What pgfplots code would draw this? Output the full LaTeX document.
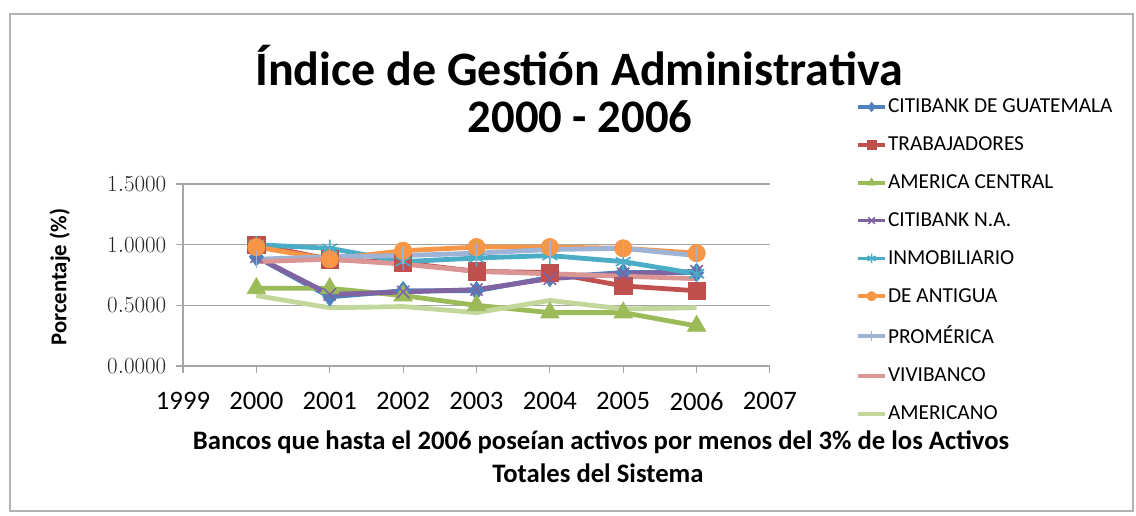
\documentclass[border=0pt]{standalone}
\usepackage{pgfplots}
\pgfplotsset{compat=1.18}
\usepackage{fontspec}
\setmainfont{Carlito}
\definecolor{cA}{HTML}{4F81BD}
\definecolor{cB}{HTML}{C0504D}
\definecolor{cC}{HTML}{9BBB59}
\definecolor{cD}{HTML}{8064A2}
\definecolor{cE}{HTML}{4BACC6}
\definecolor{cF}{HTML}{F79646}
\definecolor{cG}{HTML}{9FB3D6}
\definecolor{cH}{HTML}{D99694}
\definecolor{cI}{HTML}{C3D69B}
\begin{document}
\begin{tikzpicture}
\begin{scope}[x=0.75pt,y=0.75pt]
\path[use as bounding box] (0,0) rectangle (1136,515);
\draw[gray!60,line width=1pt] (10,4) rectangle (1133,501);
\node[font=\bfseries\fontsize{36}{40}\selectfont, inner sep=0pt] at (579,449) {Índice de Gestión Administrativa};
\node[font=\bfseries\fontsize{35}{40}\selectfont, inner sep=0pt] at (580,398) {2000 - 2006};
\node[font=\bfseries\fontsize{20}{22}\selectfont] at (601,73) {Bancos que hasta el 2006 poseían activos por menos del 3\% de los Activos};
\node[font=\bfseries\fontsize{20}{22}\selectfont] at (598,42) {Totales del Sistema};
\node[font=\bfseries\fontsize{17}{20}\selectfont,rotate=90] at (60,238) {Porcentaje (\%)};
\end{scope}
\begin{axis}[
  at={(137.25pt,111.75pt)}, anchor=south west,
  scale only axis, width=440.25pt, height=136.5pt,
  xmin=1999, xmax=2007, ymin=0, ymax=1.5,
  xtick={1999,...,2007}, ytick={0,0.5,1,1.5},
  axis x line*=bottom, axis y line*=left,
  axis line style={gray!70, line width=0.8pt},
  ymajorgrids, grid style={gray!70, line width=0.8pt},
  tick align=outside, major tick length=5pt,
  tick style={gray!70, line width=0.8pt},
  xticklabel style={/pgf/number format/1000 sep={}, /pgf/number format/assume math mode=true, font=\fontsize{20}{22}\selectfont, yshift=-11pt},
  yticklabel style={/pgf/number format/.cd, fixed, fixed zerofill, precision=4, /tikz/.cd, font=\fontsize{17}{20}\selectfont, xshift=-4pt, text=black!85},
  every axis plot/.append style={line width=3.6pt},
  legend style={at={(1.14,1.49)}, anchor=north west, draw=none, fill=none,
    font=\fontsize{16}{18}\selectfont, row sep=14.5pt, nodes={inner sep=1pt}},
  legend cell align=left,
  legend image code/.code={\draw[#1,line width=2.8pt,mark size=3.5pt,mark repeat=2,mark phase=2] plot coordinates {(0cm,0cm) (0.35cm,0cm) (0.7cm,0cm)};},
  clip=false,
]
\addplot[cA, mark=diamond*, mark size=7pt, mark options={solid,line width=0.5pt}] coordinates {(2000,0.90) (2001,0.57) (2002,0.62) (2003,0.62) (2004,0.73) (2005,0.77) (2006,0.77)};
\addlegendentry{CITIBANK DE GUATEMALA}
\addplot[cB, mark=square*, mark size=6.5pt, mark options={line width=0.5pt}] coordinates {(2000,1.00) (2001,0.88) (2002,0.85) (2003,0.78) (2004,0.77) (2005,0.66) (2006,0.62)};
\addlegendentry{TRABAJADORES}
\addplot[cC, mark=triangle*, mark size=8pt, mark options={line width=0.5pt}] coordinates {(2000,0.64) (2001,0.64) (2002,0.58) (2003,0.50) (2004,0.44) (2005,0.44) (2006,0.33)};
\addlegendentry{AMERICA CENTRAL}
\addplot[cD, mark=x, mark size=6.5pt, mark options={line width=1.2pt}] coordinates {(2000,0.90) (2001,0.59) (2002,0.61) (2003,0.63) (2004,0.72) (2005,0.76) (2006,0.78)};
\addlegendentry{CITIBANK N.A.}
\addplot[cE, mark=asterisk, mark size=6.5pt, mark options={line width=1.2pt}] coordinates {(2000,1.00) (2001,0.97) (2002,0.86) (2003,0.89) (2004,0.91) (2005,0.86) (2006,0.76)};
\addlegendentry{INMOBILIARIO}
\addplot[cF, mark=*, mark size=6.5pt, mark options={line width=0.5pt}] coordinates {(2000,0.98) (2001,0.88) (2002,0.95) (2003,0.98) (2004,0.98) (2005,0.97) (2006,0.93)};
\addlegendentry{DE ANTIGUA}
\addplot[cG, mark=|, mark size=6.5pt, mark options={line width=1pt}] coordinates {(2000,0.88) (2001,0.90) (2002,0.91) (2003,0.93) (2004,0.96) (2005,0.97) (2006,0.91)};
\addlegendentry{PROMÉRICA}
\addplot[cH, no marks] coordinates {(2000,0.86) (2001,0.88) (2002,0.84) (2003,0.78) (2004,0.76) (2005,0.74) (2006,0.72)};
\addlegendentry{VIVIBANCO}
\addplot[cI, no marks] coordinates {(2000,0.58) (2001,0.48) (2002,0.49) (2003,0.44) (2004,0.54) (2005,0.47) (2006,0.48)};
\addlegendentry{AMERICANO}
\end{axis}
\end{tikzpicture}
\end{document}
